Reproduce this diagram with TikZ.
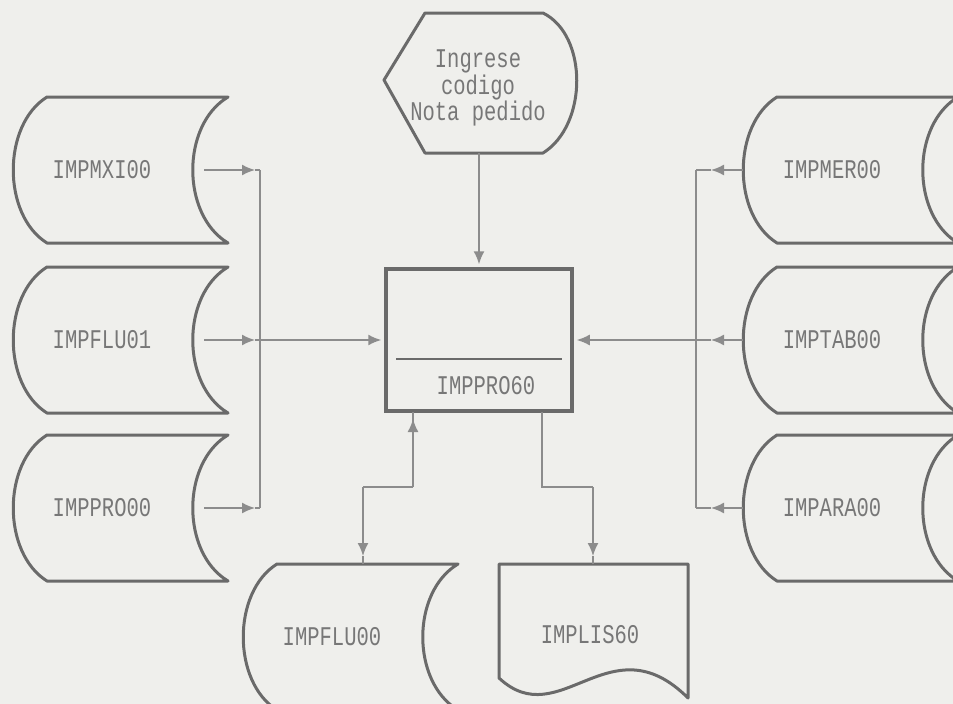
\documentclass[tikz,border=0pt]{standalone}
\usepackage{fontspec}
\newfontfamily\dotfont[FakeStretch=0.76]{Liberation Mono}
\usetikzlibrary{arrows.meta}
\definecolor{paper}{HTML}{EFEFEC}
\definecolor{ink}{HTML}{6A6A6A}
\definecolor{txt}{HTML}{777777}
\definecolor{wirec}{HTML}{8C8C8C}
\tikzset{
  outline/.style={draw=ink,line width=3pt,line join=round},
  wire/.style={draw=wirec,line width=1.6pt},
  arr/.style={wire,-{Latex[length=13pt,width=11pt]}},
  lbl/.style={text=txt,font=\dotfont\fontsize{27}{21}\selectfont,inner sep=0pt,align=center},
  pics/store/.style={code={
    \draw[outline] (34,0) -- (215,0) .. controls (168,28) and (168,118) .. (215,146)
      -- (34,146) .. controls (-11,118) and (-11,28) .. (34,0) -- cycle;
    \coordinate (-e) at (191,73);
    \coordinate (-w) at (0,73);
    \node[lbl] (-t) at (89,73) {#1};
  }}
}
\begin{document}
\begin{tikzpicture}[x=1pt,y=-1pt]
\useasboundingbox (0,0) rectangle (953,704);
\fill[paper] (0,0) rectangle (953,704);
\clip (0,0) rectangle (953,704);

% left files
\pic (s1) at (13,97) {store=IMPMXI00};
\pic (s2) at (13,267) {store=IMPFLU01};
\pic (s3) at (13,435) {store=IMPPRO00};
% right files
\pic (r1) at (743,97) {store=IMPMER00};
\pic (r2) at (743,267) {store=IMPTAB00};
\pic (r3) at (743,435) {store=IMPARA00};
% bottom file
\pic (f1) at (243,564) {store=IMPFLU00};

% display (hexagon)
\draw[outline] (425,13) -- (543,13) .. controls (588,35) and (588,125) .. (543,153)
  -- (425,153) -- (384,80) -- cycle;
\node[lbl] (hex) at (478,88) {Ingrese\\codigo\\Nota pedido};
\coordinate (hexb) at (479,153);

% process box
\node[draw=ink,line width=3.5pt,minimum width=186pt,minimum height=142pt,inner sep=0pt] (box) at (479,340) {};
\draw[draw=ink,line width=2pt] (396,359) -- (562,359);
\node[lbl] (boxt) at (486,386) {IMPPRO60};

% document
\draw[outline] (499,564) -- (688,564) -- (688,698) .. controls (610,620) and (560,735) .. (499,678) -- cycle;
\node[lbl] (doc) at (590,635) {IMPLIS60};
\coordinate (doct) at (593,564);

% left collector
\coordinate (t1) at (255,170);
\coordinate (t2) at (255,340);
\coordinate (t3) at (255,508);
\coordinate (L1) at (260,170);
\coordinate (L3) at (260,508);
\draw[wire] (L1) -- (L3);
\draw[arr] (s1-e) -- (t1); \draw[wire] (t1) -- (L1);
\draw[arr] (s3-e) -- (t3); \draw[wire] (t3) -- (L3);
\draw[arr] (s2-e) -- (t2);
\draw[arr,shorten >=3pt] (t2) -- (box.west);

% right collector
\coordinate (u1) at (711,170);
\coordinate (u2) at (711,340);
\coordinate (u3) at (711,508);
\coordinate (R1) at (696,170);
\coordinate (R3) at (696,508);
\draw[wire] (R1) -- (R3);
\draw[arr] (r1-w) -- (u1); \draw[wire] (u1) -- (R1);
\draw[arr] (r3-w) -- (u3); \draw[wire] (u3) -- (R3);
\draw[arr] (r2-w) -- (u2);
\draw[arr,shorten >=3pt] (u2) -- (box.east);

% top
\draw[arr,shorten >=3pt] (hexb) -- (box.north);

% bottom left (two-way)
\coordinate (bb1) at (413,412);
\coordinate (k1) at (413,487);
\coordinate (k2) at (363,487);
\coordinate (f1a) at (363,556);
\coordinate (f1top) at (363,564);
\draw[wire] (bb1) -- (k1);
\draw[arr,shorten >=7pt] (k1) -- (bb1);
\draw[wire] (k1) -- (k2);
\draw[arr] (k2) -- (f1a);
\draw[wire] (f1a) -- (f1top);

% bottom right
\coordinate (bb2) at (542,412);
\coordinate (k3) at (542,487);
\coordinate (k4) at (593,487);
\coordinate (da) at (593,556);
\draw[wire] (bb2) -- (k3) -- (k4);
\draw[arr] (k4) -- (da);
\draw[wire] (da) -- (doct);
\end{tikzpicture}
\end{document}
